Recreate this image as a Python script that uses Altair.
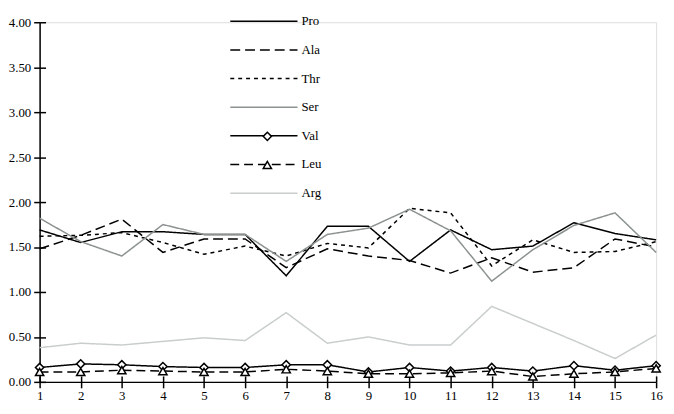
import altair as alt
import pandas as pd

x_vals = list(range(1, 17))
series_names = ["Pro", "Ala", "Thr", "Ser", "Val", "Leu", "Arg"]
pro = [1.69, 1.55, 1.67, 1.67, 1.64, 1.64, 1.18, 1.73, 1.73, 1.34, 1.69, 1.47, 1.51, 1.77, 1.65, 1.58]
ala = [1.48, 1.63, 1.81, 1.44, 1.59, 1.59, 1.27, 1.48, 1.40, 1.35, 1.21, 1.38, 1.22, 1.27, 1.59, 1.50]
thr = [1.62, 1.63, 1.66, 1.55, 1.42, 1.51, 1.40, 1.54, 1.49, 1.93, 1.88, 1.29, 1.58, 1.44, 1.45, 1.56]
ser = [1.82, 1.56, 1.40, 1.75, 1.64, 1.64, 1.34, 1.64, 1.71, 1.92, 1.68, 1.12, 1.47, 1.74, 1.88, 1.44]
val = [0.16, 0.20, 0.19, 0.17, 0.16, 0.16, 0.19, 0.19, 0.11, 0.16, 0.12, 0.16, 0.12, 0.18, 0.13, 0.18]
leu = [0.11, 0.11, 0.13, 0.12, 0.11, 0.11, 0.14, 0.12, 0.09, 0.09, 0.10, 0.12, 0.06, 0.09, 0.11, 0.15]
arg = [0.38, 0.43, 0.41, 0.45, 0.49, 0.46, 0.77, 0.43, 0.50, 0.41, 0.41, 0.84, 0.65, 0.46, 0.26, 0.52]
y_ticks = [0, 0.5, 1, 1.5, 2, 2.5, 3, 3.5, 4]

colors = ["#000000", "#000000", "#000000", "#8c9191", "#000000", "#000000", "#c9cdcd"]
dashes = [[1, 0], [10, 5], [4, 4], [1, 0], [1, 0], [9, 5], [1, 0]]

all_vals = [pro, ala, thr, ser, val, leu, arg]
rows = []
for name, vals in zip(series_names, all_vals):
    for xv, v in zip(x_vals, vals):
        rows.append({"series": name, "x": xv, "value": v})
df = pd.DataFrame(rows)

marker_names = ["Val", "Leu"]
marker_shapes = ["diamond", "triangle-up"]
df_pts = df[df["series"].isin(marker_names)].rename(columns={"series": "marker"})

FONT = "Liberation Serif"

x_scale = alt.Scale(domain=[1, 16], nice=False, zero=False)
y_scale = alt.Scale(domain=[0, 4], nice=False)

x_axis = alt.Axis(values=x_vals, title=None, grid=False, orient="bottom",
                  domainColor="black", domainWidth=1.5, tickColor="black", tickWidth=1.5,
                  tickSize=6, labelPadding=2, labelFont=FONT, labelFontSize=13,
                  labelColor="black", labelFlush=False)
y_axis = alt.Axis(values=y_ticks, format=".2f", title=None,
                  grid=False, orient="left", domainColor="black", domainWidth=1.5,
                  tickColor="black", tickWidth=1.5, tickSize=6, labelPadding=3,
                  labelFont=FONT, labelFontSize=13, labelColor="black", labelFlush=False)

lines = alt.Chart(df).mark_line(strokeWidth=1.5, clip=False).encode(
    x=alt.X("x:Q", scale=x_scale, axis=x_axis),
    y=alt.Y("value:Q", scale=y_scale, axis=y_axis),
    color=alt.Color("series:N", scale=alt.Scale(domain=series_names, range=colors),
                    sort=series_names,
                    legend=alt.Legend(title=None, orient="none", legendX=219, legendY=-9,
                                      direction="vertical", symbolType="M-5,0H5",
                                      symbolSize=185, symbolStrokeWidth=1.5,
                                      labelFont=FONT, labelFontSize=13, labelColor="black",
                                      labelOffset=30, rowPadding=14, padding=0, zindex=1)),
    strokeDash=alt.StrokeDash("series:N", scale=alt.Scale(domain=series_names, range=dashes),
                              sort=series_names),
    detail="series:N",
)

x_axis2 = alt.Axis(values=x_vals, title=None, grid=False, orient="bottom", domain=False,
                   labels=False, tickColor="black", tickWidth=1.5, tickSize=6, offset=-6)
y_axis2 = alt.Axis(values=y_ticks, title=None, grid=False,
                   orient="left", domain=False, labels=False, tickColor="black",
                   tickWidth=1.5, tickSize=6, offset=-6)

points = alt.Chart(df_pts).mark_point(filled=False, fill="white", stroke="black",
                                      strokeWidth=1.5, opacity=1, size=70).encode(
    x=alt.X("x:Q", scale=x_scale, axis=x_axis2),
    y=alt.Y("value:Q", scale=y_scale, axis=y_axis2),
    shape=alt.Shape("marker:N", scale=alt.Scale(domain=marker_names, range=marker_shapes),
                    sort=marker_names,
                    legend=alt.Legend(title=None, orient="none", legendX=224, legendY=109,
                                      direction="vertical", symbolSize=70,
                                      symbolStrokeWidth=1.5,
                                      labelExpr="''", labelFontSize=13, rowPadding=14,
                                      padding=0, zindex=3)),
)

chart = alt.layer(lines, points).resolve_axis(
    x="independent", y="independent"
).properties(
    width=624, height=364,
    autosize=alt.AutoSizeParams(type="none"),
    padding={"left": 32, "top": 12, "right": 10, "bottom": 22},
).configure_view(stroke=None).configure(background="white")

chart.save("out.html", embed_options={"renderer": "svg", "actions": False})
